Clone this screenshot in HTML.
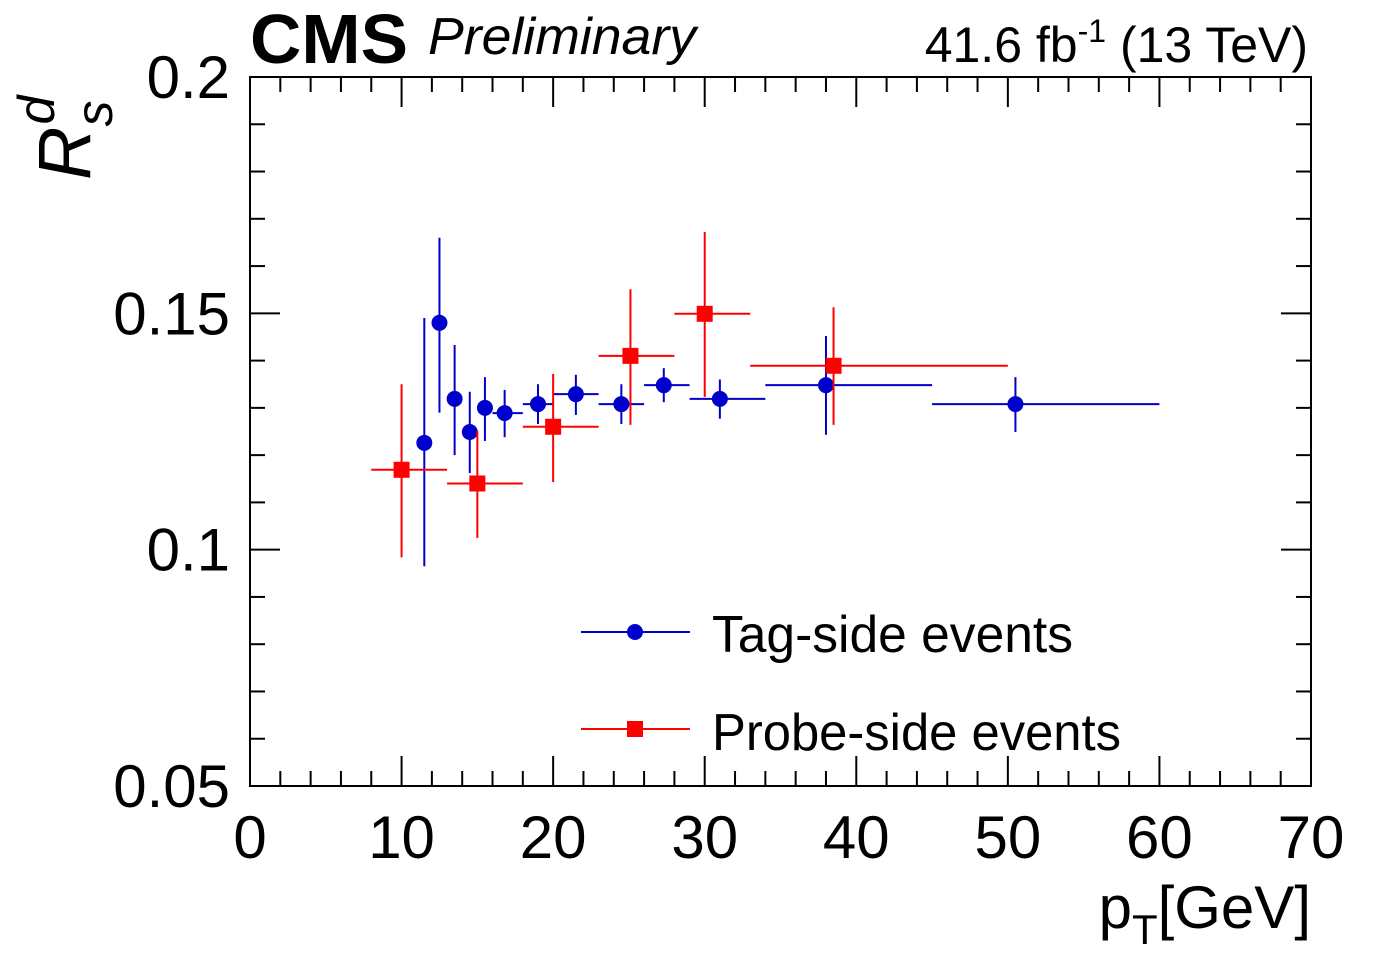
<!DOCTYPE html>
<html><head><meta charset="utf-8"><style>
html,body{margin:0;padding:0;background:#fff;}
svg{display:block;font-family:"Liberation Sans",sans-serif;}
</style></head><body>
<svg id="chart" width="1396" height="972" viewBox="0 0 1396 972" xmlns="http://www.w3.org/2000/svg">
<rect x="250" y="77" width="1061" height="709" fill="none" stroke="#000" stroke-width="2"/>
<g id="ticks"></g>
<g id="labels" font-size="60" fill="#000"></g>
<g id="marks"></g>
<text x="250" y="63" font-size="70" font-weight="bold" textLength="158" lengthAdjust="spacingAndGlyphs">CMS</text>
<text x="428" y="54" font-size="52" font-style="italic" textLength="268" lengthAdjust="spacingAndGlyphs">Preliminary</text>
<text x="1308" y="62" font-size="50" text-anchor="end">41.6 fb<tspan dy="-20" font-size="32">-1</tspan><tspan dy="20"> (13 TeV)</tspan></text>
<text x="1311" y="928" font-size="60" text-anchor="end">p<tspan dy="16" font-size="42">T</tspan><tspan dy="-16">[GeV]</tspan></text>
<g transform="translate(90,180) rotate(-90)">
<text x="0" y="0" font-size="74" font-style="italic">R<tspan dy="22" font-size="52">s</tspan><tspan dx="-24" dy="-58" font-size="52">d</tspan></text>
</g>
<g>
<g>
<line x1="581" y1="632" x2="690" y2="632" stroke="#0000cc" stroke-width="2"/>
<circle cx="635" cy="632" r="8" fill="#0000cc"/>
<text x="712" y="652" font-size="52" textLength="361" lengthAdjust="spacingAndGlyphs">Tag-side events</text>
</g>
<g>
<line x1="581" y1="729" x2="690" y2="729" stroke="#ff0000" stroke-width="2"/>
<rect x="627" y="721" width="16" height="16" fill="#ff0000"/>
<text x="712" y="750" font-size="52" textLength="409" lengthAdjust="spacingAndGlyphs">Probe-side events</text>
</g>
</g>
</svg>
<script>
const tagX = [11.5, 12.5, 13.5, 14.5, 15.5, 16.8, 19, 21.5, 24.5, 27.3, 31, 38, 50.5];
const tagXlo = [11, 12, 13, 14, 15, 16, 18, 20, 23, 26, 29, 34, 45];
const tagXhi = [12, 13, 14, 15, 16, 18, 20, 23, 26, 29, 34, 45, 60];
const tagY = [0.1226, 0.148, 0.1319, 0.1249, 0.130, 0.1289, 0.1308, 0.1329, 0.1308, 0.1348, 0.1319, 0.1348, 0.1308];
const tagYlo = [0.0965, 0.129, 0.120, 0.1162, 0.123, 0.1238, 0.1266, 0.1285, 0.1266, 0.1312, 0.1277, 0.1243, 0.1249];
const tagYhi = [0.149, 0.166, 0.1433, 0.1334, 0.1365, 0.1338, 0.135, 0.137, 0.135, 0.1384, 0.136, 0.1452, 0.1365];
const probeX = [10, 15, 20, 25.1, 30, 38.5];
const probeXlo = [8, 13, 18, 23, 28, 33];
const probeXhi = [13, 18, 23, 28, 33, 50];
const probeY = [0.1169, 0.114, 0.126, 0.141, 0.1499, 0.1389];
const probeYlo = [0.0984, 0.1025, 0.1143, 0.1264, 0.1323, 0.1264];
const probeYhi = [0.135, 0.1251, 0.1372, 0.1551, 0.1672, 0.1513];
const xTickLabels = ["0","10","20","30","40","50","60","70"];
const yTickLabels = ["0.05","0.1","0.15","0.2"];

const NS = "http://www.w3.org/2000/svg";
const X0 = 250, X1 = 1311, Y0 = 786, Y1 = 77;
function sx(v){ return X0 + (v - 0) / 70 * (X1 - X0); }
function sy(v){ return Y0 - (v - 0.05) / 0.15 * (Y0 - Y1); }
function mk(tag, attrs, parent){
  const e = document.createElementNS(NS, tag);
  for (const k in attrs) e.setAttribute(k, attrs[k]);
  parent.appendChild(e);
  return e;
}
const ticks = document.getElementById('ticks');
for (let i = 0; i <= 35; i++) {
  const v = i * 2, x = sx(v), L = (v % 10 === 0) ? 30 : 15;
  const a = mk('line', {x1:x, y1:Y0, x2:x, y2:Y0 - L, stroke:'#000', 'stroke-width':2}, ticks);
  
  
  const b = mk('line', {x1:x, y1:Y1, x2:x, y2:Y1 + L, stroke:'#000', 'stroke-width':2}, ticks);
  
  
}
for (let i = 0; i <= 15; i++) {
  const v = 0.05 + i * 0.01, y = sy(v), L = (i % 5 === 0) ? 30 : 15;
  const a = mk('line', {x1:X0, y1:y, x2:X0 + L, y2:y, stroke:'#000', 'stroke-width':2}, ticks);
  
  
  const b = mk('line', {x1:X1, y1:y, x2:X1 - L, y2:y, stroke:'#000', 'stroke-width':2}, ticks);
  
  
}
const labels = document.getElementById('labels');
xTickLabels.forEach((t, i) => {
  const e = mk('text', {x:sx(i * 10), y:858, 'text-anchor':'middle'}, labels);
  e.textContent = t;
  
  
});
yTickLabels.forEach((t, i) => {
  const e = mk('text', {x:230, y:sy(0.05 + i * 0.05) + 21, 'text-anchor':'end'}, labels);
  e.textContent = t;
  
  
});
const marks = document.getElementById('marks');
function series(xs, xl, xh, ys, yl, yh, color, square, name){
  const g = mk('g', {}, marks);
  
  
  xs.forEach((xv, i) => {
    mk('line', {x1:sx(xl[i]), y1:sy(ys[i]), x2:sx(xh[i]), y2:sy(ys[i]), stroke:color, 'stroke-width':2}, g);
    mk('line', {x1:sx(xv), y1:sy(yl[i]), x2:sx(xv), y2:sy(yh[i]), stroke:color, 'stroke-width':2}, g);
    let m;
    if (square) m = mk('rect', {x:sx(xv) - 8, y:sy(ys[i]) - 8, width:16, height:16, fill:color}, g);
    else m = mk('circle', {cx:sx(xv), cy:sy(ys[i]), r:8, fill:color}, g);
    
    
  });
}
series(tagX, tagXlo, tagXhi, tagY, tagYlo, tagYhi, '#0000cc', false, 'tag-side-series');
series(probeX, probeXlo, probeXhi, probeY, probeYlo, probeYhi, '#ff0000', true, 'probe-side-series');
</script>
</body></html>
